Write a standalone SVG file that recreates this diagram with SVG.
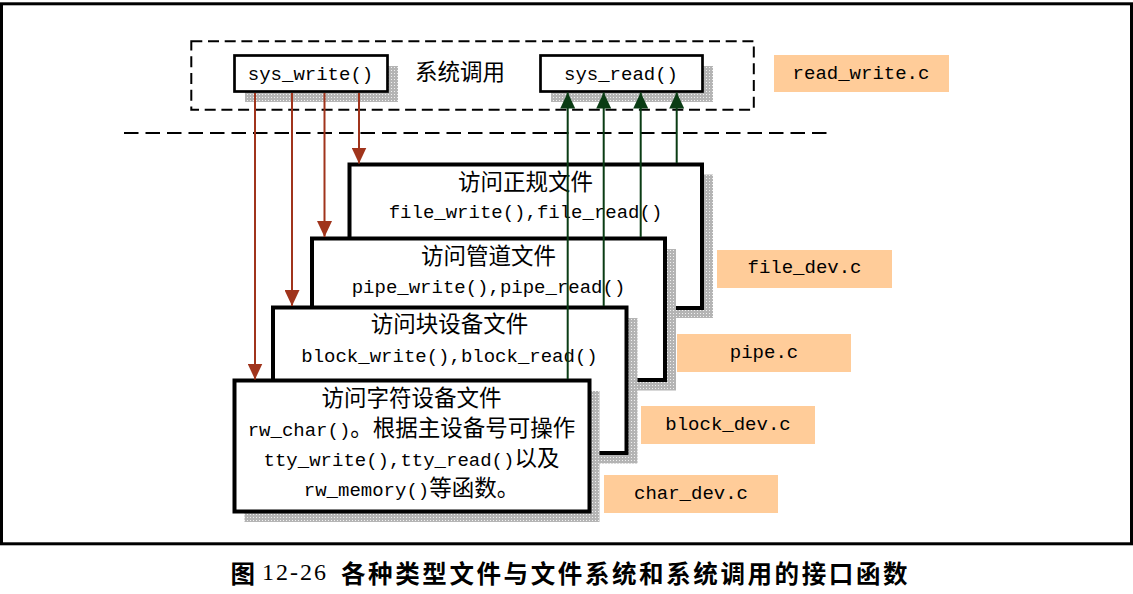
<svg xmlns="http://www.w3.org/2000/svg" width="1133" height="594" viewBox="0 0 1133 594">
<style>
.frame{fill:none;stroke:#000;stroke-width:3}
.dash{fill:none;stroke:#000;stroke-width:2}
.box{fill:#fff;stroke:#000;stroke-width:4}
.sbox{fill:#fff;stroke:#000;stroke-width:2.7}
.shadow{fill:url(#dots)}
.lbl{fill:#FFCC99}
.t{font-family:"Liberation Mono","Noto Sans CJK SC",monospace;font-size:19px;fill:#000;text-anchor:middle}
.cn{font-family:"Noto Sans CJK SC",sans-serif;font-size:22.5px}
.red{stroke:#A0341C;stroke-width:2;fill:none}
.grn{stroke:#0A3C14;stroke-width:2;fill:none}
.cap{font-family:"Noto Sans CJK SC",sans-serif;font-weight:bold;font-size:24.5px;fill:#000}
</style>
<defs>
<pattern id="dots" width="3" height="3" patternUnits="userSpaceOnUse">
<rect width="3" height="3" fill="#b4b4b4"/>
<rect x="1" y="1" width="1" height="1" fill="#f0f0f0"/>
</pattern>
<marker id="ar" viewBox="0 0 16 15" markerWidth="16" markerHeight="15" refX="16" refY="7.5" orient="auto" markerUnits="userSpaceOnUse">
<path d="M0,0 L16,7.5 L0,15 z" fill="#A0341C"/>
</marker>
<marker id="ag" viewBox="0 0 16 15" markerWidth="16" markerHeight="15" refX="16" refY="7.5" orient="auto" markerUnits="userSpaceOnUse">
<path d="M0,0 L16,7.5 L0,15 z" fill="#0A3C14"/>
</marker>
</defs>
<rect width="1133" height="594" fill="#fff"/>
<rect class="frame" x="1.5" y="3.8" width="1130" height="540"/>
<rect class="dash" x="191.3" y="41.3" width="562.5" height="68.4" stroke-dasharray="11 5.7"/>
<line class="dash" x1="124" y1="133" x2="833" y2="133" stroke-dasharray="14.5 7"/>

<g id="sys_write">
<rect class="shadow" x="245" y="66" width="153" height="36"/>
<rect class="sbox" x="234.5" y="55.5" width="153" height="36"/>
<text class="t" x="310.5" y="80">sys_write()</text>
</g>
<g id="syscall_label">
<text class="t cn" x="460" y="79.5">系统调用</text>
</g>
<g id="sys_read">
<rect class="shadow" x="551" y="66" width="162" height="36"/>
<rect class="sbox" x="540.5" y="55.5" width="162" height="36"/>
<text class="t" x="621" y="80">sys_read()</text>
</g>
<g id="read_write_c">
<rect class="lbl" x="774" y="55" width="175" height="37"/>
<text class="t" x="861" y="78.5">read_write.c</text>
</g>
<g id="file_dev_c">
<rect class="lbl" x="717" y="250" width="175" height="38"/>
<text class="t" x="804.5" y="273">file_dev.c</text>
</g>
<g id="pipe_c">
<rect class="lbl" x="677" y="334" width="174" height="38"/>
<text class="t" x="764" y="358">pipe.c</text>
</g>
<g id="block_dev_c">
<rect class="lbl" x="641" y="406" width="174" height="38"/>
<text class="t" x="728" y="430">block_dev.c</text>
</g>
<g id="char_dev_c">
<rect class="lbl" x="604" y="475" width="174" height="38"/>
<text class="t" x="691" y="498.5">char_dev.c</text>
</g>

<g id="file_box">
<rect class="shadow" x="360.5" y="174.5" width="352.5" height="143.5"/>
<rect class="box" x="349.5" y="164.5" width="352.5" height="143.5"/>
<text class="t cn" x="525.5" y="190">访问正规文件</text>
<text class="t" x="525.5" y="218">file_write(),file_read()</text>
</g>
<g id="pipe_box">
<rect class="shadow" x="323" y="249" width="353" height="141.5"/>
<rect class="box" x="312" y="238.5" width="353" height="141.5"/>
<text class="t cn" x="488.5" y="263.5">访问管道文件</text>
<text class="t" x="488.5" y="292.5">pipe_write(),pipe_read()</text>
</g>
<g id="block_box">
<rect class="shadow" x="284" y="318" width="353.5" height="145.5"/>
<rect class="box" x="273" y="307.5" width="353.5" height="145.5"/>
<text class="t cn" x="449.5" y="331.5">访问块设备文件</text>
<text class="t" x="449.5" y="361.5">block_write(),block_read()</text>
</g>
<g id="char_box">
<rect class="shadow" x="244.5" y="391" width="355" height="131"/>
<rect class="box" x="234.5" y="380.5" width="355" height="131"/>
<text class="t cn" x="411.5" y="405.5">访问字符设备文件</text>
<text class="t" x="411.5" y="435.5">rw_char()<tspan class="cn">。根据主设备号可操作</tspan></text>
<text class="t" x="411.5" y="465.5">tty_write(),tty_read()<tspan class="cn">以及</tspan></text>
<text class="t" x="411.5" y="495.5">rw_memory()<tspan class="cn">等函数。</tspan></text>
</g>

<g id="connectors">
<line class="red" x1="359" y1="93" x2="359" y2="163.5" marker-end="url(#ar)"/>
<line class="red" x1="324.5" y1="93" x2="324.5" y2="237" marker-end="url(#ar)"/>
<line class="red" x1="292" y1="93" x2="292" y2="306" marker-end="url(#ar)"/>
<line class="red" x1="255" y1="93" x2="255" y2="379.5" marker-end="url(#ar)"/>
<line class="grn" x1="676.7" y1="163" x2="676.7" y2="92.5" marker-end="url(#ag)"/>
<line class="grn" x1="640.7" y1="237" x2="640.7" y2="92.5" marker-end="url(#ag)"/>
<line class="grn" x1="603.7" y1="306" x2="603.7" y2="92.5" marker-end="url(#ag)"/>
<line class="grn" x1="567.7" y1="379" x2="567.7" y2="92.5" marker-end="url(#ag)"/>
</g>

<g id="caption">
<text class="cap" y="583"><tspan x="230.5">图</tspan><tspan x="262" y="580" font-family="Liberation Serif" font-weight="normal" font-size="24" textLength="64" lengthAdjust="spacing">12-26</tspan><tspan x="341" y="583" letter-spacing="2.6">各种类型文件与文件系统和系统调用的接口函数</tspan></text>
</g>
</svg>
